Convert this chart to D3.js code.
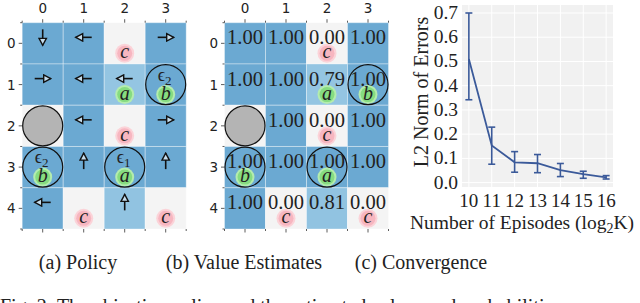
<!DOCTYPE html>
<html>
<head>
<meta charset="utf-8">
<script src="https://cdn.jsdelivr.net/npm/d3@7"></script>
<style>
  body { margin: 0; background: #fff; }
  svg { display: block; }
  .tick-sans { font-family: "DejaVu Sans", sans-serif; font-size: 13.5px; fill: #222; }
  .serif { font-family: "Liberation Serif", "Times New Roman", serif; fill: #222; }
</style>
</head>
<body>
<svg id="chart" width="640" height="303"></svg>
<script>
/*
  Grid world figure: policy, value estimates and convergence of the error
*/

// grid layout
const gridRows = [0, 1, 2, 3, 4];
const gridCols = [0, 1, 2, 3];

// value estimates per cell, null = obstacle
const cellValues = [
  [1.00, 1.00, 0.00, 1.00],
  [1.00, 1.00, 0.79, 1.00],
  [null, 1.00, 0.00, 1.00],
  [1.00, 1.00, 1.00, 1.00],
  [1.00, 0.00, 0.81, 0.00]
];

// greedy action per cell
const policyActions = [
  ['down', 'left', null, 'right'],
  ['right', 'left', 'left', null],
  [null, 'left', null, 'right'],
  [null, 'up', null, 'up'],
  ['left', null, 'up', null]
];

const obstacles = [{ row: 2, col: 0 }];

// labelled states: c = pink, a / b = green
const stateLabels = [
  { row: 0, col: 2, label: 'c' },
  { row: 2, col: 2, label: 'c' },
  { row: 4, col: 1, label: 'c' },
  { row: 4, col: 3, label: 'c' },
  { row: 1, col: 2, label: 'a' },
  { row: 1, col: 3, label: 'b' },
  { row: 3, col: 0, label: 'b' },
  { row: 3, col: 2, label: 'a' }
];

// circled states with epsilon index
const circledStates = [
  { row: 1, col: 3, eps: '2' },
  { row: 3, col: 0, eps: '2' },
  { row: 3, col: 2, eps: '1' }
];

// convergence data
const episodesLog2 = [10, 11, 12, 13, 14, 15, 16];
const errorMean = [0.51, 0.153, 0.084, 0.080, 0.052, 0.035, 0.022];
const errorLow = [0.342, 0.076, 0.043, 0.041, 0.025, 0.018, 0.015];
const errorHigh = [0.700, 0.229, 0.128, 0.116, 0.079, 0.047, 0.029];
const yTicks = [0.0, 0.1, 0.2, 0.3, 0.4, 0.5, 0.6, 0.7];

const captions = [
  { text: '(a) Policy', x: 78 },
  { text: '(b) Value Estimates', x: 244 },
  { text: '(c) Convergence', x: 421 }
];

const svg = d3.select('#chart');

const defs = svg.append('defs');
defs.append('marker')
  .attr('id', 'head')
  .attr('markerUnits', 'userSpaceOnUse')
  .attr('markerWidth', 10)
  .attr('markerHeight', 10)
  .attr('viewBox', '0 0 10 10')
  .attr('refX', 8.5)
  .attr('refY', 5)
  .attr('orient', 'auto')
  .append('path')
  .attr('d', 'M1.5,1.3 L8.5,5 L1.5,8.7 Z')
  .attr('fill', '#c4dcec')
  .attr('stroke', '#111')
  .attr('stroke-width', 1.4);

const color = d3.scaleLinear()
  .domain([0, 0.8, 1])
  .range(['#f4f4f4', '#93c4e2', '#6ba9d2']);

const yScale = d3.scaleBand().domain(gridRows).range([22.7, 229]);

/**
 * Draw one grid panel: cells, ticks, obstacle, labels and circles
 */
function drawGrid(left, right, mode) {
  const xScale = d3.scaleBand().domain(gridCols).range([left, right]);
  const g = svg.append('g');
  const cells = [];
  gridRows.forEach(r => gridCols.forEach(c => cells.push({ row: r, col: c, v: cellValues[r][c] })));

  g.selectAll('rect.cell')
    .data(cells)
    .enter()
    .append('rect')
    .attr('class', 'cell')
    .attr('x', d => xScale(d.col))
    .attr('y', d => yScale(d.row))
    .attr('width', xScale.bandwidth())
    .attr('height', yScale.bandwidth())
    .attr('fill', d => color(d.v === null ? 0 : d.v))
    .attr('stroke', 'rgba(255,255,255,0.35)')
    .attr('stroke-width', 1);

  const cx = d => xScale(d.col) + xScale.bandwidth() / 2;
  const cy = d => yScale(d.row) + yScale.bandwidth() / 2;

  // ticks: major at centers, minor on cell borders
  const top = yScale.range()[0];
  const bottom = yScale.range()[1];
  const ticks = g.append('g').attr('stroke', '#333').attr('stroke-width', 0.8);
  gridCols.forEach(c => {
    const x = xScale(c) + xScale.bandwidth() / 2;
    ticks.append('line').attr('x1', x).attr('x2', x).attr('y1', top - 3.5).attr('y2', top);
    ticks.append('line').attr('x1', x).attr('x2', x).attr('y1', bottom).attr('y2', bottom + 3.5);
  });
  gridRows.forEach(r => {
    const y = yScale(r) + yScale.bandwidth() / 2;
    ticks.append('line').attr('x1', left - 3.5).attr('x2', left).attr('y1', y).attr('y2', y);
  });
  d3.range(gridCols.length + 1).forEach(i => {
    const x = left + i * xScale.step();
    ticks.append('line').attr('x1', x).attr('x2', x).attr('y1', top - 2).attr('y2', top);
    ticks.append('line').attr('x1', x).attr('x2', x).attr('y1', bottom).attr('y2', bottom + 2);
  });
  d3.range(gridRows.length + 1).forEach(i => {
    const y = top + i * yScale.step();
    ticks.append('line').attr('x1', left - 2).attr('x2', left).attr('y1', y).attr('y2', y);
  });

  g.selectAll('text.colLabel')
    .data(gridCols)
    .enter()
    .append('text')
    .attr('class', 'tick-sans')
    .attr('x', c => xScale(c) + xScale.bandwidth() / 2)
    .attr('y', 13)
    .attr('text-anchor', 'middle')
    .text(c => c);

  g.selectAll('text.rowLabel')
    .data(gridRows)
    .enter()
    .append('text')
    .attr('class', 'tick-sans')
    .attr('x', left - 6.5)
    .attr('y', r => yScale(r) + yScale.bandwidth() / 2 + 5)
    .attr('text-anchor', 'end')
    .text(r => r);

  if (mode === 'policy') {
    const arrows = cells.filter(d => policyActions[d.row][d.col]);
    const dirs = { left: [-1, 0], right: [1, 0], up: [0, -1], down: [0, 1] };
    g.selectAll('line.arrow')
      .data(arrows)
      .enter()
      .append('line')
      .attr('x1', d => cx(d) - dirs[policyActions[d.row][d.col]][0] * 8)
      .attr('x2', d => cx(d) + dirs[policyActions[d.row][d.col]][0] * 8)
      .attr('y1', d => cy(d) - 6 - dirs[policyActions[d.row][d.col]][1] * 8)
      .attr('y2', d => cy(d) - 6 + dirs[policyActions[d.row][d.col]][1] * 8)
      .attr('stroke', '#111')
      .attr('stroke-width', 1.6)
      .attr('marker-end', 'url(#head)');
  } else {
    g.selectAll('text.value')
      .data(cells.filter(d => d.v !== null))
      .enter()
      .append('text')
      .attr('class', 'serif')
      .attr('x', d => cx(d))
      .attr('y', d => cy(d) + 1)
      .attr('text-anchor', 'middle')
      .style('font-size', '20.5px')
      .text(d => d.v.toFixed(2));
  }

  // obstacle
  g.selectAll('circle.obstacle')
    .data(obstacles)
    .enter()
    .append('circle')
    .attr('cx', cx)
    .attr('cy', cy)
    .attr('r', 20)
    .attr('fill', '#b4b4b4')
    .attr('stroke', '#111')
    .attr('stroke-width', 1.2);

  // labelled states
  const lab = g.selectAll('g.state')
    .data(stateLabels)
    .enter()
    .append('g')
    .attr('transform', d => `translate(${cx(d)},${cy(d) + 10})`);
  lab.append('circle')
    .attr('r', 9.5)
    .attr('fill', d => d.label === 'c' ? '#fbd3d8' : '#b4ecae');
  lab.append('circle')
    .attr('r', 7.5)
    .attr('fill', d => d.label === 'c' ? '#f7b6c0' : '#86dc80');
  lab.append('text')
    .attr('class', 'serif')
    .attr('y', 5)
    .attr('text-anchor', 'middle')
    .style('font-size', '20px')
    .style('font-style', 'italic')
    .text(d => d.label);

  // circled states
  g.selectAll('circle.ring')
    .data(circledStates)
    .enter()
    .append('circle')
    .attr('cx', cx)
    .attr('cy', cy)
    .attr('r', 20)
    .attr('fill', 'none')
    .attr('stroke', '#111')
    .attr('stroke-width', 1.2);

  if (mode === 'policy') {
    const eps = g.selectAll('text.eps')
      .data(circledStates)
      .enter()
      .append('text')
      .attr('class', 'serif')
      .attr('x', d => cx(d) - 1)
      .attr('y', d => cy(d) - 4)
      .attr('text-anchor', 'middle')
      .style('font-size', '18px');
    eps.append('tspan').text('\u03f5');
    eps.append('tspan')
      .attr('dy', 4)
      .style('font-size', '13px')
      .text(d => d.eps);
  }
}

drawGrid(22.2, 186.2, 'policy');
drawGrid(224.5, 388.5, 'value');

/*
 * Convergence panel
 */
const plot = { left: 462, right: 613, top: 5, bottom: 187 };
const xConv = d3.scaleLinear().domain([9.7, 16.3]).range([plot.left, plot.right]);
const yConv = d3.scaleLinear().domain([-0.018, 0.733]).range([plot.bottom, plot.top]);

const conv = svg.append('g');
conv.append('rect')
  .attr('x', plot.left)
  .attr('y', plot.top)
  .attr('width', plot.right - plot.left)
  .attr('height', plot.bottom - plot.top)
  .attr('fill', '#f1f1f1');

conv.selectAll('line.vgrid')
  .data(episodesLog2)
  .enter()
  .append('line')
  .attr('x1', d => xConv(d)).attr('x2', d => xConv(d))
  .attr('y1', plot.top).attr('y2', plot.bottom)
  .attr('stroke', '#fff').attr('stroke-width', 1);

conv.selectAll('line.hgrid')
  .data(yTicks)
  .enter()
  .append('line')
  .attr('x1', plot.left).attr('x2', plot.right)
  .attr('y1', d => yConv(d)).attr('y2', d => yConv(d))
  .attr('stroke', '#fff').attr('stroke-width', 1);

const series = episodesLog2.map((x, i) => ({ x, mean: errorMean[i], lo: errorLow[i], hi: errorHigh[i] }));

conv.append('path')
  .datum(series)
  .attr('fill', 'none')
  .attr('stroke', '#3b5a9a')
  .attr('stroke-width', 1.8)
  .attr('d', d3.line().x(d => xConv(d.x)).y(d => yConv(d.mean)));

const bars = conv.selectAll('g.errbar')
  .data(series)
  .enter()
  .append('g')
  .attr('stroke', '#3b5a9a')
  .attr('stroke-width', 1.6);
bars.append('line')
  .attr('x1', d => xConv(d.x)).attr('x2', d => xConv(d.x))
  .attr('y1', d => yConv(d.lo)).attr('y2', d => yConv(d.hi));
bars.append('line')
  .attr('x1', d => xConv(d.x) - 3.5).attr('x2', d => xConv(d.x) + 3.5)
  .attr('y1', d => yConv(d.lo)).attr('y2', d => yConv(d.lo));
bars.append('line')
  .attr('x1', d => xConv(d.x) - 3.5).attr('x2', d => xConv(d.x) + 3.5)
  .attr('y1', d => yConv(d.hi)).attr('y2', d => yConv(d.hi));

conv.selectAll('text.ytick')
  .data(yTicks)
  .enter()
  .append('text')
  .attr('class', 'serif')
  .attr('x', plot.left - 4)
  .attr('y', d => yConv(d) + 6)
  .attr('text-anchor', 'end')
  .style('font-size', '19.5px')
  .text(d => d.toFixed(1));

conv.selectAll('text.xtick')
  .data(episodesLog2)
  .enter()
  .append('text')
  .attr('class', 'serif')
  .attr('x', d => xConv(d))
  .attr('y', 207)
  .attr('text-anchor', 'middle')
  .style('font-size', '19px')
  .text(d => d);

const xLabel = conv.append('text')
  .attr('class', 'serif')
  .attr('x', 522)
  .attr('y', 229)
  .attr('text-anchor', 'middle')
  .style('font-size', '19.5px');
xLabel.append('tspan').text('Number of Episodes (log');
xLabel.append('tspan').attr('dy', 4).style('font-size', '14px').text('2');
xLabel.append('tspan').attr('dy', -4).text('K)');

conv.append('text')
  .attr('class', 'serif')
  .attr('transform', 'translate(428,92) rotate(-90)')
  .attr('text-anchor', 'middle')
  .style('font-size', '20px')
  .text('L2 Norm of Errors');

// captions
svg.selectAll('text.caption')
  .data(captions)
  .enter()
  .append('text')
  .attr('class', 'serif')
  .attr('x', d => d.x)
  .attr('y', 269)
  .attr('text-anchor', 'middle')
  .style('font-size', '20px')
  .text(d => d.text);

// figure caption, cut by the bottom edge as in the source crop
svg.append('text')
  .attr('class', 'serif')
  .attr('x', 0)
  .attr('y', 313)
  .style('font-size', '20px')
  .text('Fig. 2: The objective policy and the estimated values and probabilities');
</script>
</body>
</html>
